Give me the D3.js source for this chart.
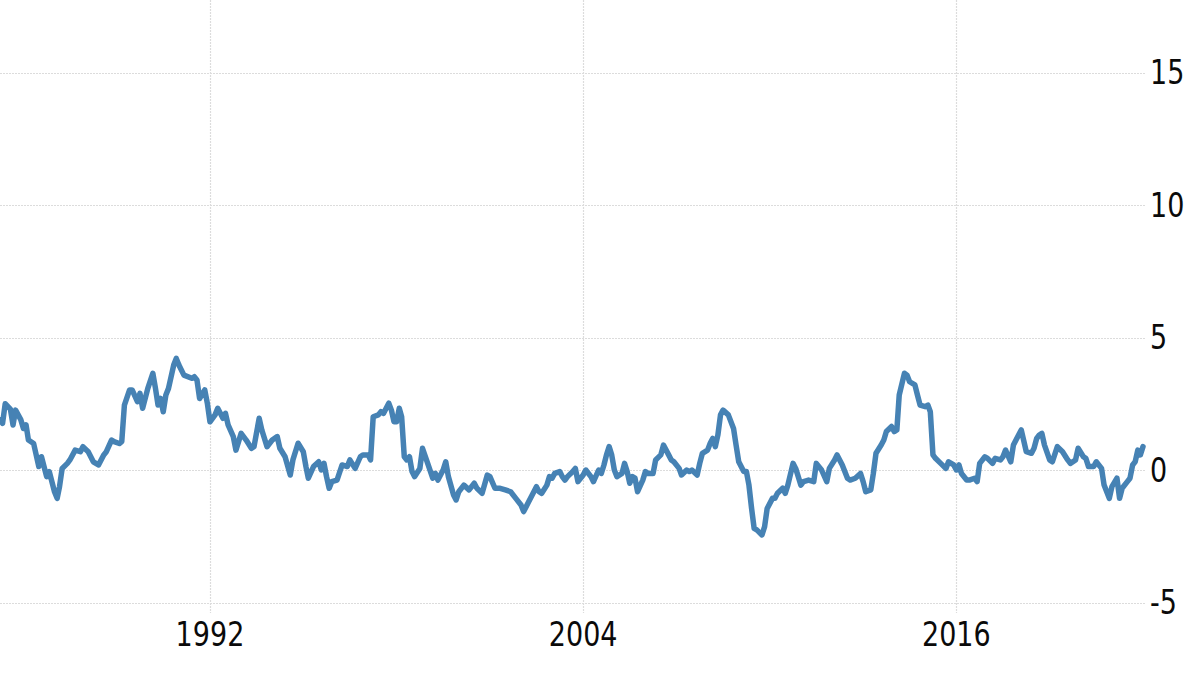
<!DOCTYPE html>
<html>
<head>
<meta charset="utf-8">
<script src="https://cdn.jsdelivr.net/npm/d3@7"></script>
<style>
  html, body { margin: 0; padding: 0; background: #fff; }
  svg { display: block; }
  .tick-label { font-family: "DejaVu Sans", sans-serif; fill: #0a0a0a; }
</style>
</head>
<body>
<svg id="chart" width="1200" height="675"></svg>
<script>
// ---- data (monthly readings, "YYYY-MM") ----
const dates = [
"1985-04","1985-05","1985-06","1985-08","1985-09","1985-10","1985-12","1986-01","1986-02","1986-03",
"1986-05","1986-07","1986-08","1986-10","1986-11","1987-01","1987-02","1987-03","1987-04","1987-06",
"1987-07","1987-09","1987-11","1987-12","1988-02","1988-04","1988-06","1988-08","1988-09","1988-11",
"1988-12","1989-02","1989-03","1989-04","1989-06","1989-07","1989-09","1989-10","1989-11","1990-01",
"1990-03","1990-04","1990-05","1990-06","1990-07","1990-08","1990-09","1990-11","1990-12","1991-01",
"1991-03","1991-06","1991-07","1991-08","1991-09","1991-11","1991-12","1992-01","1992-03","1992-04",
"1992-06","1992-07","1992-08","1992-10","1992-11","1993-01","1993-03","1993-05","1993-06","1993-08",
"1993-09","1993-11","1994-01","1994-03","1994-04","1994-06","1994-08","1994-09","1994-11","1995-01",
"1995-02","1995-03","1995-05","1995-07","1995-08","1995-09","1995-10","1995-11","1995-12","1996-02",
"1996-04","1996-06","1996-07","1996-09","1996-11","1996-12","1997-02","1997-03","1997-04","1997-06",
"1997-07","1997-08","1997-10","1997-11","1997-12","1998-01","1998-02","1998-03","1998-04","1998-05",
"1998-06","1998-07","1998-08","1998-10","1998-11","1999-01","1999-03","1999-04","1999-05","1999-07",
"1999-08","1999-09","1999-11","1999-12","2000-01","2000-03","2000-05","2000-07","2000-08","2000-10",
"2000-12","2001-01","2001-03","2001-05","2001-07","2001-09","2001-11","2002-01","2002-02","2002-04",
"2002-06","2002-07","2002-08","2002-09","2002-11","2002-12","2003-01","2003-02","2003-04","2003-05",
"2003-06","2003-07","2003-09","2003-10","2003-11","2004-01","2004-02","2004-04","2004-05","2004-07",
"2004-08","2004-09","2004-10","2004-11","2004-12","2005-01","2005-02","2005-04","2005-05","2005-06",
"2005-07","2005-08","2005-09","2005-10","2005-12","2006-01","2006-02","2006-04","2006-05","2006-07",
"2006-08","2006-10","2006-11","2006-12","2007-02","2007-03","2007-05","2007-06","2007-07","2007-09",
"2007-10","2007-11","2008-01","2008-02","2008-03","2008-04","2008-05","2008-06","2008-07","2008-09",
"2008-11","2008-12","2009-01","2009-03","2009-04","2009-05","2009-06","2009-07","2009-08","2009-10",
"2009-11","2009-12","2010-02","2010-03","2010-04","2010-06","2010-07","2010-08","2010-10","2010-11",
"2011-01","2011-02","2011-04","2011-06","2011-07","2011-09","2011-11","2011-12","2012-02","2012-03",
"2012-05","2012-07","2012-08","2012-10","2012-12","2013-01","2013-02","2013-04","2013-05","2013-06",
"2013-08","2013-09","2013-10","2013-12","2014-01","2014-02","2014-03","2014-05","2014-06","2014-07",
"2014-09","2014-10","2014-11","2015-01","2015-02","2015-03","2015-04","2015-05","2015-07","2015-09",
"2015-10","2015-12","2016-01","2016-02","2016-03","2016-05","2016-06","2016-08","2016-09","2016-10",
"2016-12","2017-01","2017-03","2017-04","2017-06","2017-07","2017-08","2017-10","2017-11","2018-01",
"2018-02","2018-03","2018-04","2018-06","2018-07","2018-08","2018-09","2018-10","2018-11","2019-01",
"2019-02","2019-04","2019-06","2019-08","2019-09","2019-11","2019-12","2020-02","2020-03","2020-04",
"2020-06","2020-07","2020-09","2020-10","2020-12","2021-01","2021-03","2021-04","2021-05","2021-07",
"2021-08","2021-09","2021-10","2021-11","2021-12","2022-01"
];
const values = [
1.89,1.76,2.50,2.30,1.70,2.26,1.90,1.57,1.70,1.13,
1.00,0.13,0.50,-0.25,-0.06,-0.82,-1.07,-0.63,0.06,0.25,
0.38,0.75,0.69,0.88,0.69,0.31,0.19,0.57,0.69,1.13,
1.07,1.00,1.07,2.45,3.02,3.02,2.58,2.89,2.33,3.08,
3.65,3.08,2.45,2.70,2.20,2.83,3.08,3.96,4.21,3.96,
3.58,3.46,3.52,3.40,2.70,3.02,2.52,1.82,2.08,2.33,
1.95,2.14,1.70,1.26,0.75,1.38,1.13,0.82,0.88,1.95,
1.51,0.88,1.13,1.26,0.82,0.50,-0.19,0.38,1.01,0.69,
0.13,-0.31,0.13,0.31,0.00,0.25,-0.25,-0.69,-0.44,-0.38,
0.19,0.13,0.38,0.06,0.50,0.57,0.57,0.38,2.01,2.08,
2.20,2.14,2.52,2.26,1.82,1.82,2.33,2.01,0.50,0.38,
0.50,-0.06,-0.25,0.06,0.82,0.25,-0.31,-0.13,-0.38,0.00,
0.31,-0.25,-0.94,-1.13,-0.82,-0.57,-0.75,-0.50,-0.69,-0.88,
-0.19,-0.25,-0.69,-0.69,-0.75,-0.82,-1.07,-1.32,-1.57,-1.20,
-0.82,-0.63,-0.82,-0.88,-0.57,-0.25,-0.31,-0.13,-0.06,-0.25,
-0.38,-0.25,-0.06,0.06,-0.44,-0.19,0.00,-0.25,-0.44,0.00,
-0.13,0.19,0.57,0.88,0.57,0.00,-0.25,-0.13,0.25,-0.06,
-0.50,-0.25,-0.31,-0.82,-0.38,-0.06,-0.13,-0.13,0.38,0.57,
0.94,0.57,0.38,0.31,0.06,-0.19,0.00,-0.06,0.00,-0.19,
0.25,0.63,0.75,1.01,1.19,0.88,1.32,2.08,2.26,2.08,
1.57,0.94,0.31,-0.06,-0.06,-0.57,-1.45,-2.20,-2.26,-2.45,
-2.14,-1.45,-1.07,-1.07,-0.88,-0.69,-0.88,-0.57,0.25,0.06,
-0.57,-0.44,-0.38,-0.44,0.25,0.00,-0.44,0.06,0.38,0.57,
0.19,-0.31,-0.38,-0.31,-0.13,-0.44,-0.82,-0.75,-0.13,0.63,
0.94,1.13,1.45,1.64,1.45,1.51,2.83,3.65,3.58,3.33,
3.21,2.83,2.45,2.39,2.45,2.20,0.57,0.44,0.25,0.06,
0.31,0.19,0.00,0.19,-0.13,-0.38,-0.38,-0.31,-0.44,0.25,
0.50,0.44,0.25,0.44,0.38,0.50,0.75,0.31,0.94,1.32,
1.51,1.13,0.69,0.63,0.82,1.19,1.32,1.38,0.94,0.38,
0.31,0.88,0.69,0.38,0.25,0.38,0.82,0.50,0.44,0.13,
0.13,0.31,0.06,-0.57,-1.07,-0.63,-0.31,-1.07,-0.69,-0.44,
-0.31,0.19,0.31,0.75,0.57,0.88
];
const yTicks = [-5, 0, 5, 10, 15];
const xTickYears = [1992, 2004, 2016];

// ---- chart ----
const parse = d3.timeParse("%Y-%m");
const data = dates.map((d, i) => ({ date: parse(d), value: values[i] }));

const svg = d3.select("#chart");

const plotLeft = 0, plotRight = 1143, gridRight = 1145;
const x = d3.scaleTime()
  .domain(d3.extent(data, d => d.date))
  .range([plotLeft, plotRight]);

const y = d3.scaleLinear()
  .domain([-5, 15])
  .range([602.5, 72.5]);

const gridColor = "#dcdcdc";

// horizontal grid
svg.append("g")
  .selectAll("line")
  .data(yTicks)
  .join("line")
  .attr("x1", 0)
  .attr("x2", gridRight)
  .attr("y1", d => Math.round(y(d)) + 0.5)
  .attr("y2", d => Math.round(y(d)) + 0.5)
  .attr("stroke", gridColor)
  .attr("stroke-width", 1.2)
  .attr("stroke-dasharray", "2,1");

// vertical grid
svg.append("g")
  .selectAll("line")
  .data(xTickYears)
  .join("line")
  .attr("x1", d => Math.round(x(new Date(d, 0, 1))) + 0.5)
  .attr("x2", d => Math.round(x(new Date(d, 0, 1))) + 0.5)
  .attr("y1", 0)
  .attr("y2", 613)
  .attr("stroke", gridColor)
  .attr("stroke-width", 1.2)
  .attr("stroke-dasharray", "2,1");

// line
const line = d3.line()
  .x(d => x(d.date))
  .y(d => y(d.value))
  .curve(d3.curveLinear);

svg.append("path")
  .datum(data)
  .attr("fill", "none")
  .attr("stroke", "#4682b4")
  .attr("stroke-width", 5.5)
  .attr("stroke-linejoin", "round")
  .attr("stroke-linecap", "round")
  .attr("d", line);

// y labels (right side)
const yl = svg.append("g");
yTicks.forEach(t => {
  const g = yl.append("g")
    .attr("transform", `translate(1150,${y(t)}) scale(1,1.22)`);
  g.append("text")
    .attr("class", "tick-label")
    .attr("x", 0)
    .attr("y", 0)
    .attr("dy", "0.36em")
    .attr("font-size", 27)
    .text(t);
});

// x labels
const xl = svg.append("g");
xTickYears.forEach(yr => {
  const g = xl.append("g")
    .attr("transform", `translate(${x(new Date(yr, 0, 1))},646) scale(1,1.22)`);
  g.append("text")
    .attr("class", "tick-label")
    .attr("text-anchor", "middle")
    .attr("font-size", 27)
    .text(yr);
});
</script>
</body>
</html>
